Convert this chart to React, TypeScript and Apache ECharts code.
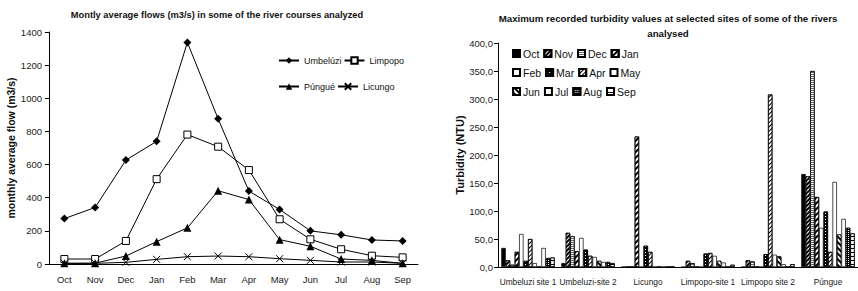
import React, { useEffect, useRef } from "react";
import * as echarts from "echarts";

const months = ["Oct", "Nov", "Dec", "Jan", "Feb", "Mar", "Apr", "May", "Jun", "Jul", "Aug", "Sep"];
const umbeluzi = [274, 341, 627, 740, 1337, 876, 440, 329, 200, 176, 145, 139];
const limpopo = [30, 30, 139, 512, 781, 708, 567, 270, 149, 89, 50, 40];
const pungue = [4, 5, 48, 135, 218, 442, 389, 147, 107, 30, 22, 4];
const licungo = [4, 4, 10, 28, 44, 48, 44, 32, 22, 12, 12, 4];

const sites = ["Umbeluzi site 1", "Umbeluzi-site 2", "Licungo", "Limpopo-site 1", "Limpopo site 2", "Púngue"];
const tOct = [34, 7, 0, 0, 0, 166];
const tNov = [12, 61, 0, 11, 12, 162];
const tDec = [4, 55, 0, 7, 10, 350];
const tJan = [27, 28, 233, 0, 0, 125];
const tFeb = [59, 52, 0, 0, 0, 70];
const tMar = [11, 31, 38, 24, 23, 99];
const tApr = [50, 20, 27, 25, 308, 27];
const tMay = [7, 18, 0, 20, 22, 152];
const tJun = [0, 11, 0, 11, 19, 58];
const tJul = [34, 9, 0, 8, 5, 86];
const tAug = [16, 9, 0, 0, 0, 70];
const tSep = [17, 7, 0, 4, 5, 60];
const turbidity = [tOct, tNov, tDec, tJan, tFeb, tMar, tApr, tMay, tJun, tJul, tAug, tSep];

const FONT = "'Liberation Sans', Arial, sans-serif";

const stripes = (color: string, on: number, off: number, rot: number) => ({
  symbol: "rect",
  symbolSize: 1,
  color,
  dashArrayX: [1, 0],
  dashArrayY: [on, off],
  rotation: rot,
});
const dots = (color: string, s: number, g: number) => ({
  symbol: "rect",
  symbolSize: 1,
  color,
  dashArrayX: [s, g],
  dashArrayY: [s, g],
});

const barStyles: any[] = [
  { color: "#000" },
  { color: "#000", decal: stripes("#fff", 1, 2, -Math.PI / 4) },
  { color: "#fff", decal: stripes("#666", 1, 1, 0) },
  { color: "#fff", decal: stripes("#000", 2, 2, -Math.PI / 4) },
  { color: "#fff" },
  { color: "#000", decal: dots("#fff", 1, 2) },
  { color: "#fff", decal: stripes("#000", 1, 2, -Math.PI / 4) },
  { color: "#fff" },
  { color: "#000", decal: stripes("#fff", 2, 2, Math.PI / 4) },
  { color: "#fff" },
  { color: "#000", decal: dots("#fff", 1, 1) },
  { color: "#fff", decal: stripes("#000", 1, 3, 0) },
];

export default function App() {
  const ref = useRef<HTMLDivElement>(null);
  useEffect(() => {
    if (!ref.current) return;
    const chart = echarts.init(ref.current, null, { renderer: "svg" });
    const lineSeries = [
      { name: "Umbelúzi", data: umbeluzi, symbol: "diamond", symbolSize: 8, itemStyle: { color: "#000" } },
      { name: "Limpopo", data: limpopo, symbol: "rect", symbolSize: 7, itemStyle: { color: "#fff", borderColor: "#000", borderWidth: 1 } },
      { name: "Púngué", data: pungue, symbol: "triangle", symbolSize: 8, itemStyle: { color: "#000" } },
      { name: "Licungo", data: licungo, symbol: "path://M0 0L10 10M10 0L0 10", symbolSize: 7, itemStyle: { color: "#000", borderColor: "#000", borderWidth: 1 } },
    ].map((s) => ({
      type: "line",
      xAxisIndex: 0,
      yAxisIndex: 0,
      lineStyle: { color: "#000", width: 1 },
      ...s,
    }));
    const barSeries = months.map((m, i) => ({
      type: "bar",
      name: m,
      xAxisIndex: 1,
      yAxisIndex: 1,
      data: turbidity[i],
      barGap: "0%",
      barCategoryGap: "11%",
      itemStyle: { ...barStyles[i], borderColor: "#000", borderWidth: 0.7 },
    }));
    const axisLabel = { color: "#222", fontFamily: FONT, fontSize: 9.5 };
    const legendRow = (names: string[], top: number) => ({
      data: names,
      left: 507,
      top,
      itemWidth: 7,
      itemHeight: 7,
      itemGap: 4,
      icon: "rect",
      textStyle: { fontFamily: FONT, fontSize: 10.5, color: "#111", width: 26, padding: [0, 0, 0, -2] },
    });
    const lineLegend = (names: string[], top: number) => ({
      data: names,
      left: 273,
      top,
      itemWidth: 20,
      itemHeight: 8,
      itemGap: 2,
      textStyle: { fontFamily: FONT, fontSize: 9, color: "#111", width: 38 },
    });
    chart.setOption({
      animation: false,
      title: [
        {
          text: "Montly average flows (m3/s) in some of the river courses analyzed",
          left: 212,
          textAlign: "center",
          top: 5,
          textStyle: { fontFamily: FONT, fontSize: 9.3, fontWeight: "bold", color: "#111" },
        },
        {
          text: "Maximum recorded turbidity values at selected sites of some of the rivers\nanalysed",
          left: 663,
          textAlign: "center",
          top: 6,
          textStyle: { fontFamily: FONT, fontSize: 9.7, fontWeight: "bold", color: "#111", lineHeight: 15 },
        },
      ],
      legend: [
        lineLegend(["Umbelúzi", "Limpopo"], 51),
        lineLegend(["Púngué", "Licungo"], 77),
        legendRow(["Oct", "Nov", "Dec", "Jan"], 43),
        legendRow(["Feb", "Mar", "Apr", "May"], 62),
        legendRow(["Jun", "Jul", "Aug", "Sep"], 81),
      ],
      grid: [
        { left: 49, top: 32, width: 369, height: 232 },
        { left: 498, top: 43, width: 370, height: 224 },
      ],
      xAxis: [
        {
          type: "category",
          gridIndex: 0,
          data: months,
          axisLine: { lineStyle: { color: "#000" } },
          axisTick: { lineStyle: { color: "#000" }, length: 4 },
          axisLabel: { ...axisLabel, margin: 10 },
        },
        {
          type: "category",
          gridIndex: 1,
          data: sites,
          axisLine: { lineStyle: { color: "#000" } },
          axisTick: { lineStyle: { color: "#000" }, length: 4 },
          axisLabel: { ...axisLabel, fontSize: 8.3, margin: 11, interval: 0 },
        },
      ],
      yAxis: [
        {
          type: "value",
          gridIndex: 0,
          min: 0,
          max: 1400,
          interval: 200,
          name: "monthly average flow (m3/s)",
          nameLocation: "middle",
          nameGap: 29,
          nameTextStyle: { fontFamily: FONT, fontSize: 10.5, fontWeight: "bold", color: "#111" },
          axisLine: { show: true, lineStyle: { color: "#000" } },
          axisTick: { show: true, lineStyle: { color: "#000" }, length: 4 },
          splitLine: { show: false },
          axisLabel: { ...axisLabel, margin: 7, formatter: (v: number) => String(v) },
        },
        {
          type: "value",
          gridIndex: 1,
          min: 0,
          max: 400,
          interval: 50,
          name: "Turbidity (NTU)",
          nameLocation: "middle",
          nameGap: 31,
          nameTextStyle: { fontFamily: FONT, fontSize: 11, fontWeight: "bold", color: "#111" },
          axisLine: { show: true, lineStyle: { color: "#000" } },
          axisTick: { show: true, lineStyle: { color: "#000" }, length: 4 },
          splitLine: { show: false },
          axisLabel: { ...axisLabel, margin: 5, formatter: (v: number) => v.toFixed(1).replace(".", ",") },
        },
      ],
      series: [...lineSeries, ...barSeries],
    });
    return () => chart.dispose();
  }, []);
  return <div ref={ref} style={{ position: "absolute", left: 0, top: 0, width: 858, height: 291, background: "#fff" }} />;
}
